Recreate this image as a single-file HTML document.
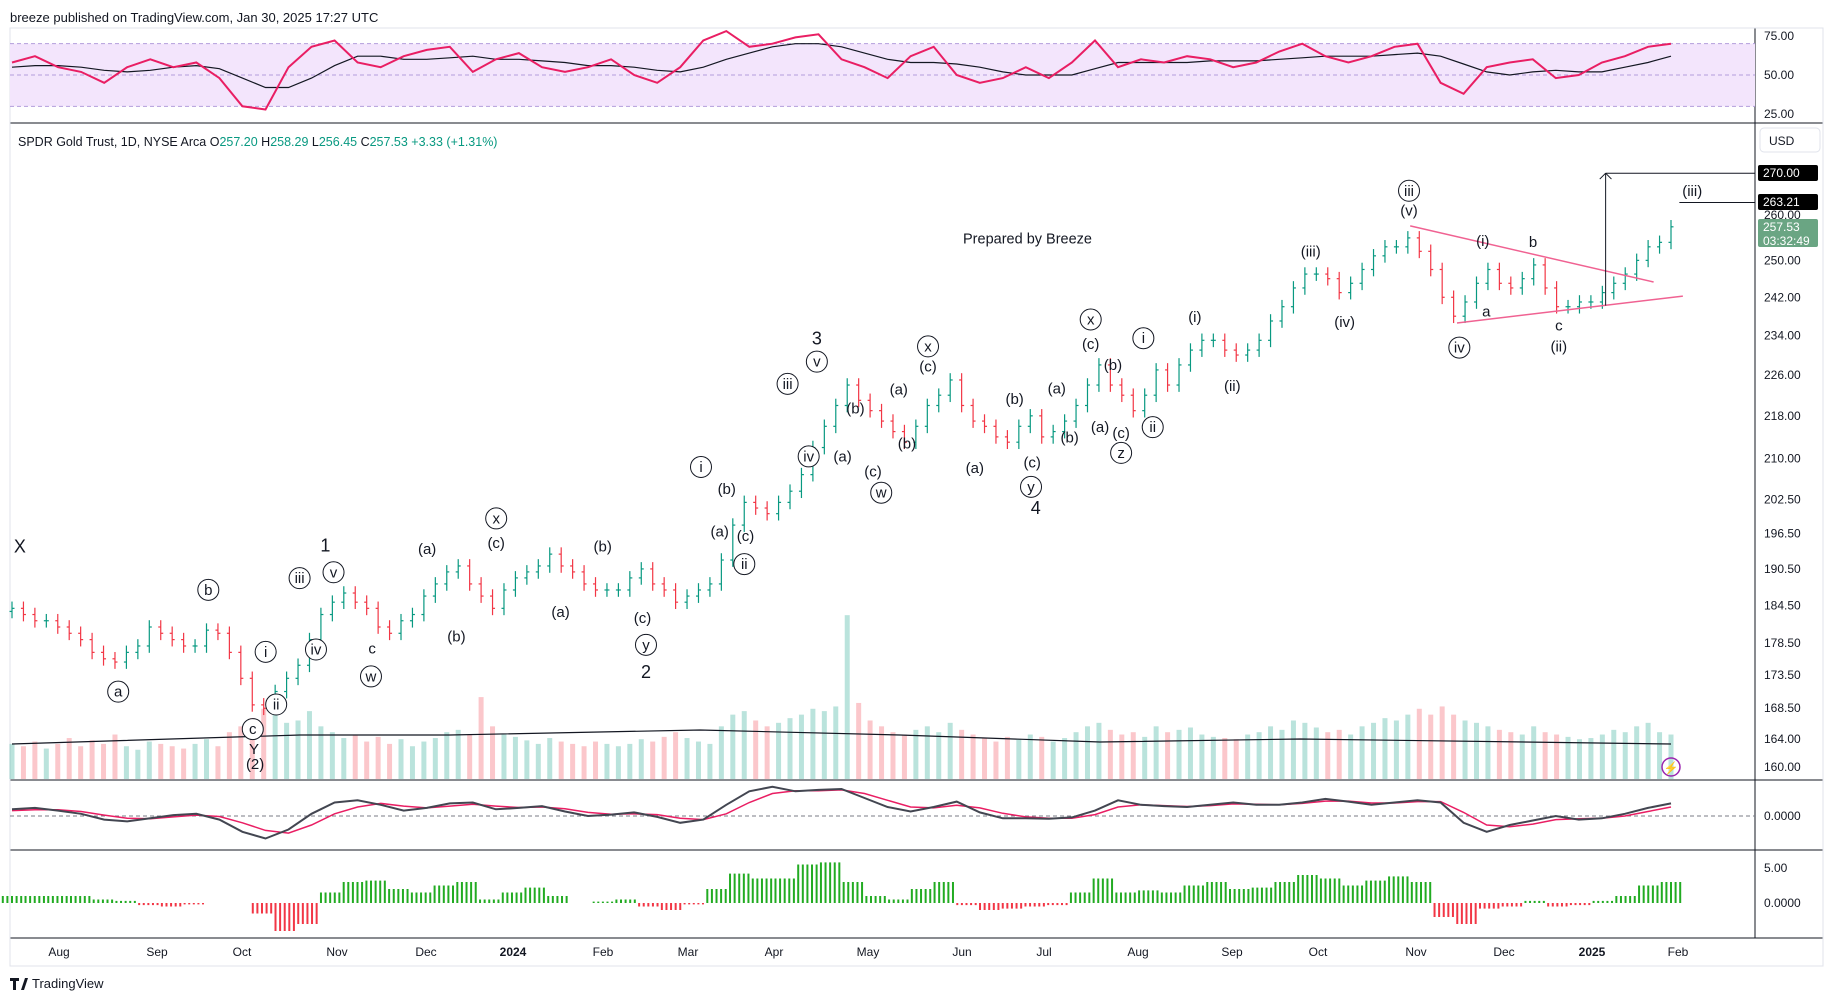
<!DOCTYPE html>
<html><head><meta charset="utf-8"><style>
html,body{margin:0;padding:0;background:#fff;}
svg{display:block;font-family:"Liberation Sans",sans-serif;}
</style></head><body>
<svg id="c" width="1835" height="1001" viewBox="0 0 1835 1001" xmlns="http://www.w3.org/2000/svg"></svg>
<script>
// ---- data ----
const closes=[184,183,182,182,181,180,179,177,176,175.5,
177,178,181,180,179,178,178,180.5,180,177,
173,169,168.5,171,173,175,179,183,185,186.5,
185,184,181,180,182,183,186,188,190,191,
188,186,184,187,189,190,191,193,191,190,
188,187,187,187,189,190.5,188,187,185,186,
187,188,192,198,202,201,200,202,204,207,
212,216,220,224,221,219,217,215,213,216,
220,222,225,220,217,216,214,213,216,218,
214,215,217,220,224,228,224,222,219,222,
227,224,228,231,233,233,231,230,231,233,
237,240,244,247,247,246,243,245,248,251,
253,253,255,252,248,242,238,241,245,248,
245,244,246,249,244,240,240,241,241,243,
245,247,250,253,254,257.5];
const volumes=[30,28,32,26,30,35,28,33,30,38,
28,25,32,30,28,26,30,34,28,40,
45,52,60,55,48,50,58,45,40,35,
38,32,36,30,34,28,32,35,40,42,
38,70,45,38,36,33,30,35,32,30,
28,32,30,28,30,34,32,36,40,35,
32,30,45,55,58,50,45,48,52,55,
60,58,62,140,65,50,45,40,38,42,
45,40,48,42,38,35,32,36,34,38,
36,32,35,40,45,48,42,38,40,36,
45,40,42,44,38,36,35,34,38,40,
45,42,50,48,44,40,42,38,45,48,
52,50,55,60,55,62,55,50,48,45,
42,40,38,45,40,38,36,34,35,38,
42,40,45,48,40,38];
const rsi=[58,62,55,52,45,55,60,55,58,48,30,28,55,68,72,58,55,62,66,68,52,60,64,55,52,55,60,50,45,55,72,78,68,70,74,76,60,55,48,62,68,50,45,48,55,48,58,72,55,60,58,62,60,55,58,65,70,62,58,62,68,70,45,38,55,58,60,48,50,58,62,68,70];
const rsiMa=[55,56,56,55,53,52,53,55,56,54,48,42,42,48,56,62,62,60,60,61,62,60,60,59,58,56,56,55,53,52,55,60,64,68,70,70,68,64,60,58,58,57,55,52,50,50,50,54,58,58,58,58,59,59,59,60,61,62,62,62,63,64,62,57,52,50,52,53,52,52,55,58,62];
const macd=[1.5,1.8,1.2,0.5,-0.8,-1.2,-0.5,0.2,0.5,-0.8,-3.5,-5,-3,0.5,3,3.5,2.5,1.2,1.8,2.8,3,1.5,1.8,2.2,1,0,0.3,0.8,-0.2,-1.5,-0.8,2.5,5.5,6.5,5.5,5.8,6,4,2,1,2,3.2,0.8,-0.5,-0.5,-0.6,-0.3,1.2,3.5,2.5,2.2,2,2.5,3,2.5,2.5,3,3.8,3.2,2.5,3,3.5,3,-1.5,-3.5,-2,-1,0,-0.8,-0.5,0.5,1.8,2.8];
const signal=[1.2,1.4,1.4,1.0,0.2,-0.5,-0.6,-0.2,0.2,-0.1,-1.5,-3.2,-3.8,-2,0.5,2,2.8,2.2,1.8,2.2,2.6,2.2,1.9,2,1.6,0.8,0.4,0.5,0.3,-0.5,-0.8,0.5,3,5,5.6,5.6,5.8,5,3.5,2,1.8,2.4,1.8,0.6,-0.2,-0.5,-0.5,0.3,2,2.5,2.3,2.1,2.3,2.7,2.6,2.5,2.8,3.3,3.3,2.9,2.9,3.2,3.2,0.8,-2,-2.4,-1.8,-0.8,-0.6,-0.5,0,1,2];
const hist=[1,1,1,1,0.5,0.3,-0.3,-0.5,-0.2,0,0,-1.5,-4,-3,1.5,3,3.2,2,1.5,2.5,3,0.5,1.5,2.2,1,0,0.2,0.5,-0.5,-1,-0.2,2,4.2,3.5,3.5,5.5,5.8,3,1,0.5,2,3,-0.3,-1,-0.8,-0.5,-0.3,1.5,3.5,1.5,1.8,1.5,2.5,3,2,2.2,3,4,3.5,2.5,3.2,3.8,3,-2,-3,-0.8,-0.5,0.3,-0.5,-0.3,0.3,1,2.5,3];
const priceTicks=["270.00","250.00","242.00","234.00","226.00","218.00","210.00","202.50","196.50","190.50","184.50","178.50","173.50","168.50","164.00","160.00"];
const monthLabels=["Aug","Sep","Oct","Nov","Dec","2024","Feb","Mar","Apr","May","Jun","Jul","Aug","Sep","Oct","Nov","Dec","2025","Feb"];
const monthPos=[59,157,242,337,426,513,603,688,774,868,962,1044,1138,1232,1318,1416,1504,1592,1678];

// ---- helpers ----
const S=1835/1568;
const svg=document.getElementById('c');
const NS='http://www.w3.org/2000/svg';
function mk(tag,attrs,parent){const e=document.createElementNS(NS,tag);for(const k in attrs)e.setAttribute(k,attrs[k]);(parent||svg).appendChild(e);return e;}
const X0=12,X1=1671,AX=1755;
function xi(i,n){return X0+(X1-X0)*i/(n-1);}
const lnTop=Math.log(270),lnBot=Math.log(160);
function py(p){return 173+(lnTop-Math.log(p))/(lnTop-lnBot)*594;}
function ry(v){return 122-(v-20)/(80-20)*94;}
function my(v){return 816-v*4.5;}
function hy(v){return 903-v*7;}
const GREEN='#089981',RED='#f23645';

let t=mk('text',{x:10,y:22,'font-size':13,fill:'#131722'});t.textContent='breeze published on TradingView.com, Jan 30, 2025 17:27 UTC';


[[0,123],[0,780],[0,850],[0,938]].forEach(a=>{mk('line',{x1:10,x2:1823,y1:a[1],y2:a[1],stroke:'#131722','stroke-width':1});});
mk('line',{x1:AX,x2:AX,y1:28,y2:938,stroke:'#131722','stroke-width':1});
mk('rect',{x:10,y:28,width:1813,height:938,fill:'none',stroke:'#e0e3eb'});

let band=mk('rect',{x:10,y:ry(70),width:AX-10,height:ry(30)-ry(70),fill:'#f3e5fc'});

[70,50,30].forEach(v=>mk('line',{x1:10,x2:AX,y1:ry(v),y2:ry(v),stroke:'#b39ddb','stroke-dasharray':'4 3','stroke-width':1}));
[[75,'75.00'],[50,'50.00'],[25,'25.00']].forEach(a=>{let e=mk('text',{x:1764,y:ry(a[0])+4,'font-size':12,fill:'#131722'});e.textContent=a[1];});
function poly(arr,fx,fy,col,w,name){let pts=arr.map((v,i)=>fx(i,arr.length).toFixed(1)+','+fy(v).toFixed(1)).join(' ');let e=mk('polyline',{points:pts,fill:'none',stroke:col,'stroke-width':w});return e;}
poly(rsiMa,xi,ry,'#131722',1.2,'rsi-ma-line');
poly(rsi,xi,ry,'#e91e63',2,'rsi-line');

t=mk('text',{x:18,y:146,'font-size':12.5,fill:'#131722'});
t.innerHTML='SPDR Gold Trust, 1D, NYSE Arca  O<tspan fill="#089981">257.20</tspan> H<tspan fill="#089981">258.29</tspan> L<tspan fill="#089981">256.45</tspan> C<tspan fill="#089981">257.53 +3.33 (+1.31%)</tspan>';


const nB=closes.length;
for(let i=0;i<nB;i++){const up=i==0||closes[i]>=closes[i-1];const v=volumes[i]||0;const x=xi(i,nB);
 let r=mk('rect',{x:x-2.5,y:779-v*S,width:5,height:v*S,fill:up?'rgba(8,153,129,0.28)':'rgba(242,54,69,0.28)'});
 }
let vma=mk('path',{d:'M12,744 L300,735 L450,735 L700,730 L900,735 L1100,742 L1300,739 L1671,744',fill:'none',stroke:'#131722','stroke-width':1.2});


for(let i=0;i<nB;i++){const o=i==0?closes[0]-0.5:closes[i-1],c=closes[i];const up=c>=o;const col=up?GREEN:RED;const x=xi(i,nB);
 const hi=Math.max(o,c)*1.006,lo=Math.min(o,c)*0.994;
 const g=mk('g',{stroke:col,'stroke-width':1.2});
 
 mk('line',{x1:x,x2:x,y1:py(hi),y2:py(lo)},g);
 mk('line',{x1:x-2.5,x2:x,y1:py(o),y2:py(o)},g);
 mk('line',{x1:x,x2:x+2.5,y1:py(c),y2:py(c)},g);}

const tickVals=priceTicks.map(Number);
tickVals.forEach((v,i)=>{let e=mk('text',{x:1764,y:py(v)+4,'font-size':12,fill:'#131722'});e.textContent=priceTicks[i];
 });
let usd=mk('rect',{x:1760,y:128,width:60,height:24,rx:4,fill:'#fff',stroke:'#e0e3eb'});

t=mk('text',{x:1769,y:145,'font-size':12,fill:'#131722'});t.textContent='USD';
function tag(y,txt,bg,h){mk('rect',{x:1758,y:y-8,width:60,height:h||16,rx:2,fill:bg});let e=mk('text',{x:1763,y:y+4,'font-size':12,fill:'#fff'});e.textContent=txt;return e;}
mk('rect',{x:1758,y:208,width:60,height:12,fill:'#fff'});
t=mk('text',{x:1764,y:219,'font-size':12,fill:'#131722'});t.textContent='260.00';
tag(173,'270.00','#000');tag(202,'263.21','#000');
mk('rect',{x:1758,y:219,width:60,height:28,rx:2,fill:'#6aa583'});
t=mk('text',{x:1763,y:231,'font-size':12,fill:'#fff'});t.textContent='257.53';
t=mk('text',{x:1763,y:245,'font-size':12,fill:'#fff'});t.textContent='03:32:49';

function ln(x1,y1,x2,y2,col,w,name){let e=mk('line',{x1:x1*S,y1:y1*S,x2:x2*S,y2:y2*S,stroke:col,'stroke-width':w});}
ln(1205,193,1413,241,'#f06292',1.5,'upper-trendline');
ln(1245,276,1438,253,'#f06292',1.5,'lower-trendline');
ln(1372,261,1372,148,'#131722',1,'target-arrow');
ln(1372,148,1500,148,'#131722',1,'target-270-line');
ln(1367,153,1372,148,'#131722',1,'arrow-head-l');ln(1377,153,1372,148,'#131722',1,'arrow-head-r');
ln(1435,173,1500,173,'#131722',1,'target-263-line');

const labels=[[17,468,'X',0,1],[178,504,'b',1],[101,591,'a',1],[227,557,'i',1],[236,602,'ii',1],[216,623,'c',1],[217,640,'Y',0],[218,653,'(2)',0],
[256,494,'iii',1],[285,489,'v',1],[278,467,'1',0,1],[270,555,'iv',1],[318,554,'c',0],[317,578,'w',1],
[365,469,'(a)',0],[390,544,'(b)',0],[424,443,'x',1],[424,464,'(c)',0],[479,523,'(a)',0],[515,467,'(b)',0],[549,528,'(c)',0],[552,551,'y',1],[552,575,'2',0,1],
[599,399,'i',1],[621,418,'(b)',0],[615,454,'(a)',0],[637,458,'(c)',0],[636,482,'ii',1],
[673,328,'iii',1],[698,309,'v',1],[698,290,'3',0,1],[691,390,'iv',1],[731,349,'(b)',0],[720,390,'(a)',0],[746,403,'(c)',0],[753,421,'w',1],[768,333,'(a)',0],[775,379,'(b)',0],[793,296,'x',1],[793,313,'(c)',0],
[833,400,'(a)',0],[867,341,'(b)',0],[882,395,'(c)',0],[881,416,'y',1],[885,435,'4',0,1],[903,332,'(a)',0],[914,374,'(b)',0],[932,273,'x',1],[932,294,'(c)',0],[951,312,'(b)',0],[940,365,'(a)',0],[958,370,'(c)',0],[958,387,'z',1],[977,289,'i',1],[985,365,'ii',1],
[1021,271,'(i)',0],[1053,330,'(ii)',0],[1120,215,'(iii)',0],[1149,275,'(iv)',0],[1204,163,'iii',1],[1204,180,'(v)',0],[1267,206,'(i)',0],[1310,207,'b',0],[1270,266,'a',0],[1247,297,'iv',1],[1332,278,'c',0],[1332,296,'(ii)',0],[1446,163,'(iii)',0]];
labels.forEach(l=>{const x=l[0]*S,y=l[1]*S;
 if(l[3]){mk('circle',{cx:x,cy:y,r:10.5,fill:'#fff',stroke:'#131722','stroke-width':1});}
 let e=mk('text',{x:x,y:y+5,'font-size':l[4]?18:15,'text-anchor':'middle',fill:'#131722'});e.textContent=l[2];
 });
t=mk('text',{x:878*S,y:208*S,'font-size':14.5,'text-anchor':'middle',fill:'#131722'});t.textContent='Prepared by Breeze';

mk('circle',{cx:1671,cy:767,r:9,fill:'none',stroke:'#9c27b0','stroke-width':1.5});
t=mk('text',{x:1671,y:772,'font-size':12,'text-anchor':'middle',fill:'#9c27b0'});t.textContent='⚡';

mk('line',{x1:10,x2:AX,y1:my(0),y2:my(0),stroke:'#787b86','stroke-dasharray':'4 3'});
poly(signal,xi,my,'#e91e63',1.5,'macd-signal-line');
poly(macd,xi,my,'#434651',2,'macd-line');
t=mk('text',{x:1764,y:my(0)+4,'font-size':12,fill:'#131722'});t.textContent='0.0000';

for(let i=0;i<hist.length;i++){const v=hist[i],x=xi(i,hist.length);
 for(let k=-2;k<=2;k++){let r=mk('rect',{x:x+k*4.6-1,y:Math.min(hy(0),hy(v)),width:2,height:Math.abs(hy(v)-hy(0)),fill:v>=0?'#22ab22':'#f23645'});
 }}
t=mk('text',{x:1764,y:hy(5)+4,'font-size':12,fill:'#131722'});t.textContent='5.00';
t=mk('text',{x:1764,y:hy(0)+4,'font-size':12,fill:'#131722'});t.textContent='0.0000';

monthLabels.forEach((m,i)=>{const bold=/^\d{4}$/.test(m);let e=mk('text',{x:monthPos[i],y:956,'font-size':12,'text-anchor':'middle',fill:'#131722','font-weight':bold?'bold':'normal'});e.textContent=m;
 });
mk('line',{x1:10,x2:1823,y1:966,y2:966,stroke:'#e0e3eb'});

t=mk('text',{x:32,y:988,'font-size':13,fill:'#131722'});t.textContent='TradingView';

mk('path',{d:'M10,978 h9 v3 h-3 v9 h-3 v-9 h-3z M21,990 l4,-12 h3 l-4,12z',fill:'#131722'});
</script>
</body></html>
